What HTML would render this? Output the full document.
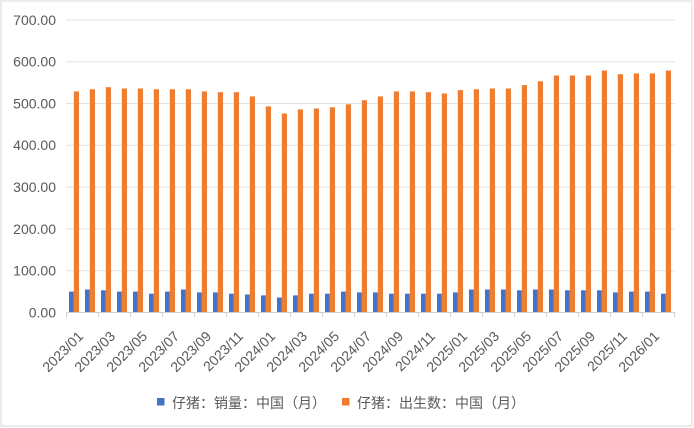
<!DOCTYPE html>
<html><head><meta charset="utf-8"><style>
html,body{margin:0;padding:0;background:#fff}
svg{display:block;font-family:"Liberation Sans","Noto Sans CJK SC",sans-serif}
</style></head><body>
<svg width="694" height="428" viewBox="0 0 694 428">
<rect x="1" y="1" width="691" height="425" fill="#fff" stroke="#d9d9d9" stroke-width="1"/>
<g stroke="#e3e3e3" stroke-width="1">
<line x1="66" x2="675" y1="19.9" y2="19.9"/><line x1="66" x2="675" y1="61.7" y2="61.7"/>
<line x1="66" x2="675" y1="103.5" y2="103.5"/><line x1="66" x2="675" y1="145.3" y2="145.3"/>
<line x1="66" x2="675" y1="187.1" y2="187.1"/><line x1="66" x2="675" y1="228.9" y2="228.9"/>
<line x1="66" x2="675" y1="270.7" y2="270.7"/>
</g>
<g fill="#595959" font-size="14" text-anchor="end">
<text x="56" y="24.8">700.00</text><text x="56" y="66.6">600.00</text><text x="56" y="108.4">500.00</text>
<text x="56" y="150.2">400.00</text><text x="56" y="192">300.00</text><text x="56" y="233.8">200.00</text>
<text x="56" y="275.6">100.00</text><text x="56" y="317.4">0.00</text>
</g>
<g transform="translate(0,312.5) scale(1,-1)">
<g fill="#ed7d31">
<rect x="73.8" width="5.2" height="221.1"/><rect x="89.8" width="5.2" height="223.2"/><rect x="105.8" width="5.2" height="225.3"/><rect x="121.8" width="5.2" height="224.0"/>
<rect x="137.8" width="5.2" height="224.0"/><rect x="153.8" width="5.2" height="223.2"/><rect x="169.8" width="5.2" height="223.2"/><rect x="185.8" width="5.2" height="223.2"/>
<rect x="201.8" width="5.2" height="221.1"/><rect x="217.8" width="5.2" height="220.3"/><rect x="233.8" width="5.2" height="220.3"/><rect x="249.8" width="5.2" height="216.1"/>
<rect x="265.8" width="5.2" height="206.1"/><rect x="281.8" width="5.2" height="199.0"/><rect x="297.8" width="5.2" height="203.1"/><rect x="313.8" width="5.2" height="204.0"/>
<rect x="329.8" width="5.2" height="205.2"/><rect x="345.8" width="5.2" height="208.2"/><rect x="361.8" width="5.2" height="212.3"/><rect x="377.8" width="5.2" height="216.1"/>
<rect x="393.8" width="5.2" height="221.1"/><rect x="409.8" width="5.2" height="221.1"/><rect x="425.8" width="5.2" height="220.3"/><rect x="441.8" width="5.2" height="219.0"/>
<rect x="457.8" width="5.2" height="222.4"/><rect x="473.8" width="5.2" height="223.2"/><rect x="489.8" width="5.2" height="224.0"/><rect x="505.8" width="5.2" height="224.0"/>
<rect x="521.8" width="5.2" height="227.4"/><rect x="537.8" width="5.2" height="231.2"/><rect x="553.8" width="5.2" height="237.0"/><rect x="569.8" width="5.2" height="237.0"/>
<rect x="585.8" width="5.2" height="237.0"/><rect x="601.8" width="5.2" height="242.0"/><rect x="617.8" width="5.2" height="238.3"/><rect x="633.8" width="5.2" height="239.1"/>
<rect x="649.8" width="5.2" height="239.1"/><rect x="665.8" width="5.2" height="242.0"/>
</g>
<g fill="#4472c4">
<rect x="69" width="4.8" height="20.9"/><rect x="85" width="4.8" height="23.0"/><rect x="101" width="4.8" height="22.2"/><rect x="117" width="4.8" height="20.9"/>
<rect x="133" width="4.8" height="20.9"/><rect x="149" width="4.8" height="18.8"/><rect x="165" width="4.8" height="20.9"/><rect x="181" width="4.8" height="23.0"/>
<rect x="197" width="4.8" height="20.1"/><rect x="213" width="4.8" height="20.1"/><rect x="229" width="4.8" height="18.8"/><rect x="245" width="4.8" height="18.0"/>
<rect x="261" width="4.8" height="17.1"/><rect x="277" width="4.8" height="15.0"/><rect x="293" width="4.8" height="17.1"/><rect x="309" width="4.8" height="18.8"/>
<rect x="325" width="4.8" height="18.8"/><rect x="341" width="4.8" height="20.9"/><rect x="357" width="4.8" height="20.1"/><rect x="373" width="4.8" height="20.1"/>
<rect x="389" width="4.8" height="18.8"/><rect x="405" width="4.8" height="18.8"/><rect x="421" width="4.8" height="18.8"/><rect x="437" width="4.8" height="18.8"/>
<rect x="453" width="4.8" height="20.1"/><rect x="469" width="4.8" height="23.0"/><rect x="485" width="4.8" height="23.0"/><rect x="501" width="4.8" height="23.0"/>
<rect x="517" width="4.8" height="22.2"/><rect x="533" width="4.8" height="23.0"/><rect x="549" width="4.8" height="23.0"/><rect x="565" width="4.8" height="22.2"/>
<rect x="581" width="4.8" height="22.2"/><rect x="597" width="4.8" height="22.2"/><rect x="613" width="4.8" height="20.1"/><rect x="629" width="4.8" height="20.9"/>
<rect x="645" width="4.8" height="20.9"/><rect x="661" width="4.8" height="18.8"/>
</g>
</g>
<g stroke="#d0d0d0" stroke-width="1">
<line x1="66" x2="675.5" y1="312.5" y2="312.5"/>
<line x1="66.5" x2="66.5" y1="312" y2="317"/><line x1="98.5" x2="98.5" y1="312" y2="317"/><line x1="130.5" x2="130.5" y1="312" y2="317"/><line x1="162.5" x2="162.5" y1="312" y2="317"/>
<line x1="194.5" x2="194.5" y1="312" y2="317"/><line x1="226.5" x2="226.5" y1="312" y2="317"/><line x1="258.5" x2="258.5" y1="312" y2="317"/><line x1="290.5" x2="290.5" y1="312" y2="317"/>
<line x1="322.5" x2="322.5" y1="312" y2="317"/><line x1="354.5" x2="354.5" y1="312" y2="317"/><line x1="386.5" x2="386.5" y1="312" y2="317"/><line x1="418.5" x2="418.5" y1="312" y2="317"/>
<line x1="450.5" x2="450.5" y1="312" y2="317"/><line x1="482.5" x2="482.5" y1="312" y2="317"/><line x1="514.5" x2="514.5" y1="312" y2="317"/><line x1="546.5" x2="546.5" y1="312" y2="317"/>
<line x1="578.5" x2="578.5" y1="312" y2="317"/><line x1="610.5" x2="610.5" y1="312" y2="317"/><line x1="642.5" x2="642.5" y1="312" y2="317"/><line x1="674.5" x2="674.5" y1="312" y2="317"/>
</g>
<g fill="#595959" font-size="14" text-anchor="end">
<text transform="translate(77,330) rotate(-45)" dy="10">2023/01</text>
<text transform="translate(109,330) rotate(-45)" dy="10">2023/03</text>
<text transform="translate(141,330) rotate(-45)" dy="10">2023/05</text>
<text transform="translate(173,330) rotate(-45)" dy="10">2023/07</text>
<text transform="translate(205,330) rotate(-45)" dy="10">2023/09</text>
<text transform="translate(237,330) rotate(-45)" dy="10">2023/11</text>
<text transform="translate(269,330) rotate(-45)" dy="10">2024/01</text>
<text transform="translate(301,330) rotate(-45)" dy="10">2024/03</text>
<text transform="translate(333,330) rotate(-45)" dy="10">2024/05</text>
<text transform="translate(365,330) rotate(-45)" dy="10">2024/07</text>
<text transform="translate(397,330) rotate(-45)" dy="10">2024/09</text>
<text transform="translate(429,330) rotate(-45)" dy="10">2024/11</text>
<text transform="translate(461,330) rotate(-45)" dy="10">2025/01</text>
<text transform="translate(493,330) rotate(-45)" dy="10">2025/03</text>
<text transform="translate(525,330) rotate(-45)" dy="10">2025/05</text>
<text transform="translate(557,330) rotate(-45)" dy="10">2025/07</text>
<text transform="translate(589,330) rotate(-45)" dy="10">2025/09</text>
<text transform="translate(621,330) rotate(-45)" dy="10">2025/11</text>
<text transform="translate(653,330) rotate(-45)" dy="10">2026/01</text>
</g>
<rect x="157" y="398" width="7.5" height="7.5" fill="#4472c4"/>
<text x="172" y="408" font-size="14" fill="#595959">仔猪：销量：中国（月）</text>
<rect x="342" y="398" width="7.5" height="7.5" fill="#ed7d31"/>
<text x="357" y="408" font-size="14" fill="#595959">仔猪：出生数：中国（月）</text>
</svg>
</body></html>
